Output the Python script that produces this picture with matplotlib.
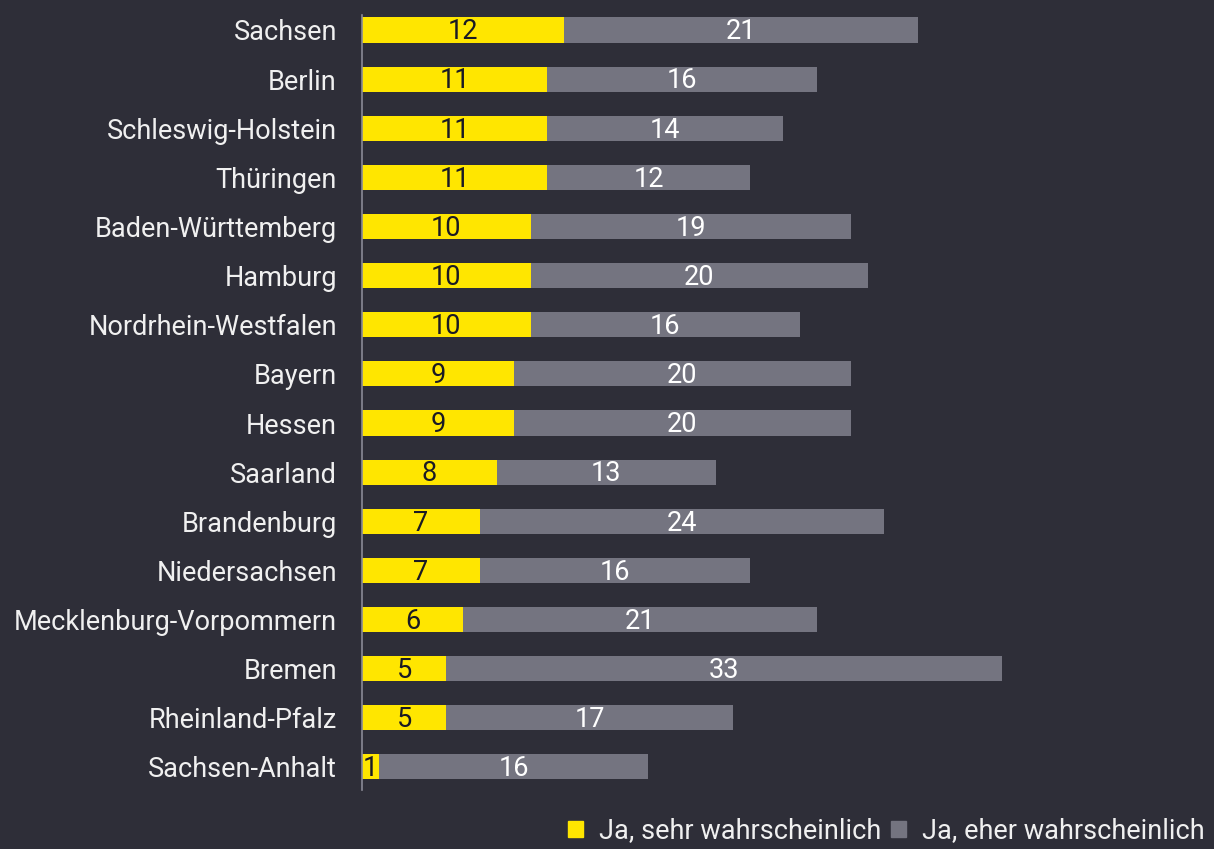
import matplotlib
matplotlib.use("Agg")
import matplotlib.pyplot as plt
from matplotlib.patches import Patch

states = ["Sachsen", "Berlin", "Schleswig-Holstein", "Thüringen", "Baden-Württemberg",
          "Hamburg", "Nordrhein-Westfalen", "Bayern", "Hessen", "Saarland", "Brandenburg",
          "Niedersachsen", "Mecklenburg-Vorpommern", "Bremen", "Rheinland-Pfalz", "Sachsen-Anhalt"]
sehr = [12, 11, 11, 11, 10, 10, 10, 9, 9, 8, 7, 7, 6, 5, 5, 1]
eher = [21, 16, 14, 12, 19, 20, 16, 20, 20, 13, 24, 16, 21, 33, 17, 16]
series_names = ["Ja, sehr wahrscheinlich", "Ja, eher wahrscheinlich"]

BG = "#2e2e38"
YEL = "#ffe600"
GRY = "#747480"
TXT = "#f0f0f0"
FS = 19.5

plt.rcParams['font.family'] = ['Roboto', 'DejaVu Sans']

fig = plt.figure(figsize=(12.14, 8.49), dpi=100, facecolor=BG)
ax = fig.add_axes([362/1214, 1-790/849, 1-362/1214, (790-15)/849])
ax.set_facecolor(BG)

y = list(range(len(states)))
ax.barh(y, sehr, height=0.51, color=YEL)
ax.barh(y, eher, left=sehr, height=0.51, color=GRY)

off = 0.19
for i in y:
    ax.text(sehr[i] / 2, i + off, str(sehr[i]), ha="center", va="baseline", color="#1a1a24", fontsize=FS)
    ax.text(sehr[i] + eher[i] / 2, i + off, str(eher[i]), ha="center", va="baseline", color="white", fontsize=FS)

ax.set_xlim(0, (1214 - 362) / 16.85)
ax.set_ylim(15.47, -0.305)
ax.set_yticks(y)
ax.set_yticklabels(states, fontsize=FS, color=TXT)
ax.tick_params(axis="y", length=0, pad=18)
ax.set_xticks([])
for s in ["top", "right", "bottom"]:
    ax.spines[s].set_visible(False)
ax.spines["left"].set_color("#8a8a96")
ax.spines["left"].set_linewidth(1.2)

handles = [Patch(color=YEL), Patch(color=GRY)]
leg = fig.legend(handles, series_names, loc="lower right", bbox_to_anchor=(0.9967, -0.001),
                 ncol=2, frameon=False, fontsize=FS, handlelength=0.55, handleheight=0.55,
                 handletextpad=0.6, columnspacing=0.35, labelcolor=TXT, borderaxespad=0.0,
                 borderpad=0.2)

fig.savefig("out.png", dpi=100, facecolor=BG)
